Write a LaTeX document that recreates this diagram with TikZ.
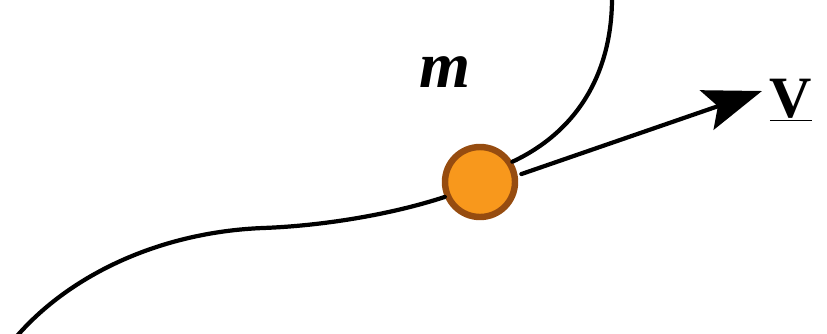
\documentclass[tikz,border=0pt]{standalone}
\usepackage{fontspec}
\setmainfont{Liberation Serif}
\usetikzlibrary{arrows.meta}
\definecolor{ballfill}{RGB}{248,152,28}
\definecolor{ballrim}{RGB}{150,76,16}
\tikzset{
  path line/.style={line width=3.6pt,line cap=round},
  mass/.style={circle,draw=ballrim,fill=ballfill,line width=5.5pt,minimum size=2.1cm,inner sep=0pt},
  vel arrow/.style={path line,-{Stealth[length=1.75cm,width=1.25cm,inset=0.35cm]}}
}
\begin{document}
\begin{tikzpicture}[x=0.03cm,y=-0.03cm]
  \useasboundingbox (0,0) rectangle (827,334);
  \node [mass] (ball) at (480,182) {};
  \coordinate (start) at (17,336);
  \coordinate (top) at (612,-2);
  \coordinate (tip) at (762,91);
  \draw [path line] (start) .. controls (70,275) and (160,232) .. (263,228) .. controls (320,226) and (390,215) .. (ball.203);
  \draw [path line] (top) .. controls (612,70) and (580,130) .. (ball.32);
  \draw [vel arrow] (ball.12) ++(4,0) -- (tip);
  \node (mass) at (445,72) {\fontsize{56}{60}\selectfont\textbf{\textit{m}}};
  \node (vel) at (791,100) {\fontsize{50}{52}\selectfont\textbf{\underline{V}}};
\end{tikzpicture}
\end{document}
